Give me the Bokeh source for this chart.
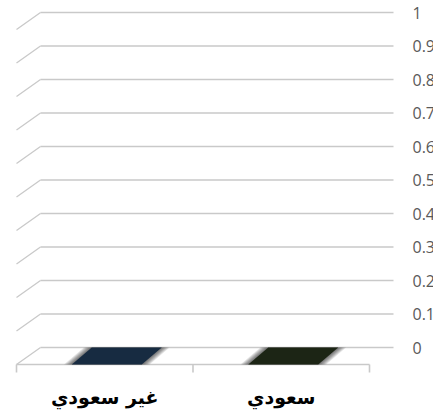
from bokeh.plotting import figure
from bokeh.models import Range1d
from bokeh.core.properties import value
from bokeh.embed import file_html
from bokeh.resources import INLINE

# ---- data ----
categories = ["غير سعودي", "سعودي"]
values = [0.0, 0.0]
bar_colors = ["#172b41", "#1c2515"]
tick_values = [0, 0.1, 0.2, 0.3, 0.4, 0.5, 0.6, 0.7, 0.8, 0.9, 1]
tick_labels = ["0", "0.1", "0.2", "0.3", "0.4", "0.5", "0.6", "0.7", "0.8", "0.9", "1"]

# ---- layout constants ----
W, H = 433, 412
PX = 176.5          # pixels per category (back wall)
PY = 335.0          # pixels per value unit
X0_PX = 40.0        # px of back-wall x=0 from figure left
Y0_PX = 347.0       # px of value 0 from figure top
n = len(categories)

x_start = -X0_PX / PX
x_end = (W - X0_PX) / PX
y_end = Y0_PX / PY
y_start = -(H - Y0_PX) / PY

DX = -24.0 / PX     # depth offset (front plane relative to back wall)
DY = -17.0 / PY

p = figure(width=W, height=H, x_range=Range1d(x_start, x_end),
           y_range=Range1d(y_start, y_end), output_backend="svg",
           toolbar_location=None, min_border=0, x_axis_type=None,
           y_axis_type=None, outline_line_color=None)
p.grid.visible = False
p.background_fill_color = "white"
p.border_fill_color = "white"

grid_col = "#c9c9c9"
# back wall gridlines
p.segment(x0=[0] * len(tick_values), y0=tick_values,
          x1=[n] * len(tick_values), y1=tick_values,
          line_color=grid_col, line_width=1.6)
# side wall gridlines
p.segment(x0=[0] * len(tick_values), y0=tick_values,
          x1=[DX] * len(tick_values), y1=[t + DY for t in tick_values],
          line_color=grid_col, line_width=1.3)
# floor front edge
p.segment(x0=[DX], y0=[DY], x1=[n + DX], y1=[DY],
          line_color=grid_col, line_width=1.6)
# category ticks
tick_len = 8.0 / PY
p.segment(x0=[i + DX for i in range(n + 1)], y0=[DY] * (n + 1),
          x1=[i + DX for i in range(n + 1)], y1=[DY - tick_len] * (n + 1),
          line_color=grid_col, line_width=1.6)

# bars (3D, flat because values are 0)
half_w = 35.0 / PX
BDX = -20.0 / PX
for i, (v, col) in enumerate(zip(values, bar_colors)):
    bc = i + 0.5 - 2.0 / PX
    # soft shading around slanted edges
    for k in range(6, 0, -1):
        e = k * 1.3 / PX
        xs = [bc - half_w - e, bc + half_w + e, bc + half_w + BDX + e, bc - half_w + BDX - e]
        ys = [v, v, v + DY, v + DY]
        p.patch(xs, ys, fill_color="black", fill_alpha=0.11, line_color=None)
    # front face
    p.patch([bc - half_w + BDX, bc + half_w + BDX, bc + half_w + BDX, bc - half_w + BDX],
            [DY, DY, v + DY, v + DY], fill_color=col, line_color=None)
    # top face
    p.patch([bc - half_w, bc + half_w, bc + half_w + BDX, bc - half_w + BDX],
            [v, v, v + DY, v + DY], fill_color=col, line_color=None)

# value labels
p.text(x=[n + 19.0 / PX] * len(tick_values), y=tick_values, text=tick_labels,
       text_align="left", text_baseline="middle", text_font_size="16px",
       text_color="#595959", text_font=value("Open Sans"))

# category labels
p.text(x=[i + 0.5 + DX for i in range(n)], y=[DY - 32.0 / PY] * n, text=categories,
       text_align="center", text_baseline="middle", text_font_size="19px",
       text_font_style="bold", text_color="black", text_font=value("DejaVu Sans"))

open("out.html", "w").write(file_html(p, INLINE))
